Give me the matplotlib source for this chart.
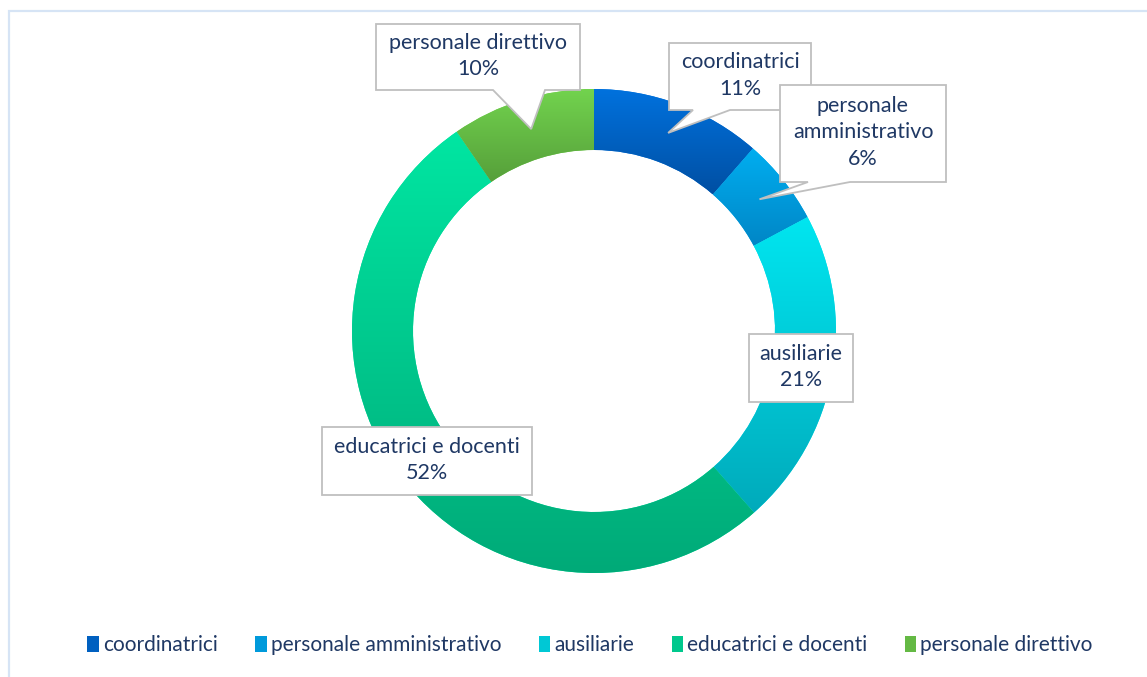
import numpy as np
import matplotlib.pyplot as plt
from matplotlib.patches import Polygon, Rectangle
import matplotlib.colors as mcolors

# data
categories = ["coordinatrici", "personale amministrativo", "ausiliarie",
              "educatrici e docenti", "personale direttivo"]
shares = [11.4, 5.8, 21.3, 51.9, 9.6]
pct_labels = ["11%", "6%", "21%", "52%", "10%"]
label_text = ["coordinatrici", "personale\namministrativo", "ausiliarie",
              "educatrici e docenti", "personale direttivo"]

top_colors = ["#0072de", "#00aef0", "#00e6f0", "#00e6a2", "#72d34e"]
bot_colors = ["#004fa3", "#0086c6", "#00aabb", "#00aa78", "#569f3a"]

W, H = 1147, 677
fig = plt.figure(figsize=(W / 100, H / 100), dpi=100)
ax = fig.add_axes([0, 0, 1, 1])

cx, cy = 594, H - 331
R, ring = 242, 61

def fy(y):
    # pixel row (from top) to axes y
    return H - y

wedges, _ = ax.pie(shares, radius=R, center=(cx, cy), startangle=90,
                   counterclock=False,
                   wedgeprops=dict(width=ring, linewidth=0))
ax.set_xlim(0, W)
ax.set_ylim(0, H)
ax.set_aspect("auto")
ax.axis("off")

# vertical gradient per slice
for w, c0, c1 in zip(wedges, top_colors, bot_colors):
    w.set_facecolor(c0)
    bb = w.get_path().get_extents(w.get_patch_transform())
    cmap = mcolors.LinearSegmentedColormap.from_list("g", [c1, c0])
    grad = np.linspace(0, 1, 256).reshape(-1, 1)
    im = ax.imshow(grad, cmap=cmap, origin="lower", aspect="auto",
                   extent=[bb.x0, bb.x1, bb.y0, bb.y1], zorder=2)
    im.set_clip_path(w)

# callouts: box (x0, y0, x1, y1 in pixels from top-left), pointer base on bottom edge
boxes = {
    4: (376, 24, 580, 90, (493, 545)),
    0: (669, 43, 811, 110, (693, 730)),
    1: (780, 85, 946, 182, (808, 850)),
    2: (749, 334, 853, 402, None),
    3: (322, 427, 532, 495, None),
}
angles = []
a = 90
for s in shares:
    span = s / sum(shares) * 360
    angles.append(a - span / 2)
    a -= span
rmid = R - ring / 2

for i in [4, 0, 1, 2, 3]:
    x0, y0, x1, y1, base = boxes[i]
    pts = [(x0, fy(y0)), (x1, fy(y0)), (x1, fy(y1))]
    if base is not None:
        th = np.deg2rad(angles[i])
        tip = (cx + rmid * np.cos(th), cy + rmid * np.sin(th))
        pts += [(base[1], fy(y1)), tip, (base[0], fy(y1))]
    pts += [(x0, fy(y1))]
    ax.add_patch(Polygon(pts, closed=True, facecolor="white",
                         edgecolor="#bfbfbf", linewidth=1.3, zorder=5))
    ax.text((x0 + x1) / 2, fy((y0 + y1) / 2) + 1, label_text[i] + "\n" + pct_labels[i],
            ha="center", va="center", fontsize=15.5, color="#1f3864",
            family="Lato", linespacing=1.4, zorder=6)

# frame
ax.add_patch(Rectangle((9, fy(H + 5)), W, H - 6, fill=False,
                       edgecolor="#d6e4f5", linewidth=1.6, zorder=1))

# legend
handles = [Rectangle((0, 0), 1, 1, facecolor=mcolors.to_hex(
    np.mean([mcolors.to_rgb(t), mcolors.to_rgb(b)], axis=0)), linewidth=0)
    for t, b in zip(top_colors, bot_colors)]
leg = fig.legend(handles, categories, loc="center", ncol=5,
                 bbox_to_anchor=(590 / W, 1 - 645 / H), frameon=False,
                 handlelength=0.55, handleheight=0.8, handletextpad=0.2,
                 columnspacing=1.8, prop=dict(family="Lato", size=15))
for t in leg.get_texts():
    t.set_color("#1f3864")

fig.savefig("out.png", dpi=100)
